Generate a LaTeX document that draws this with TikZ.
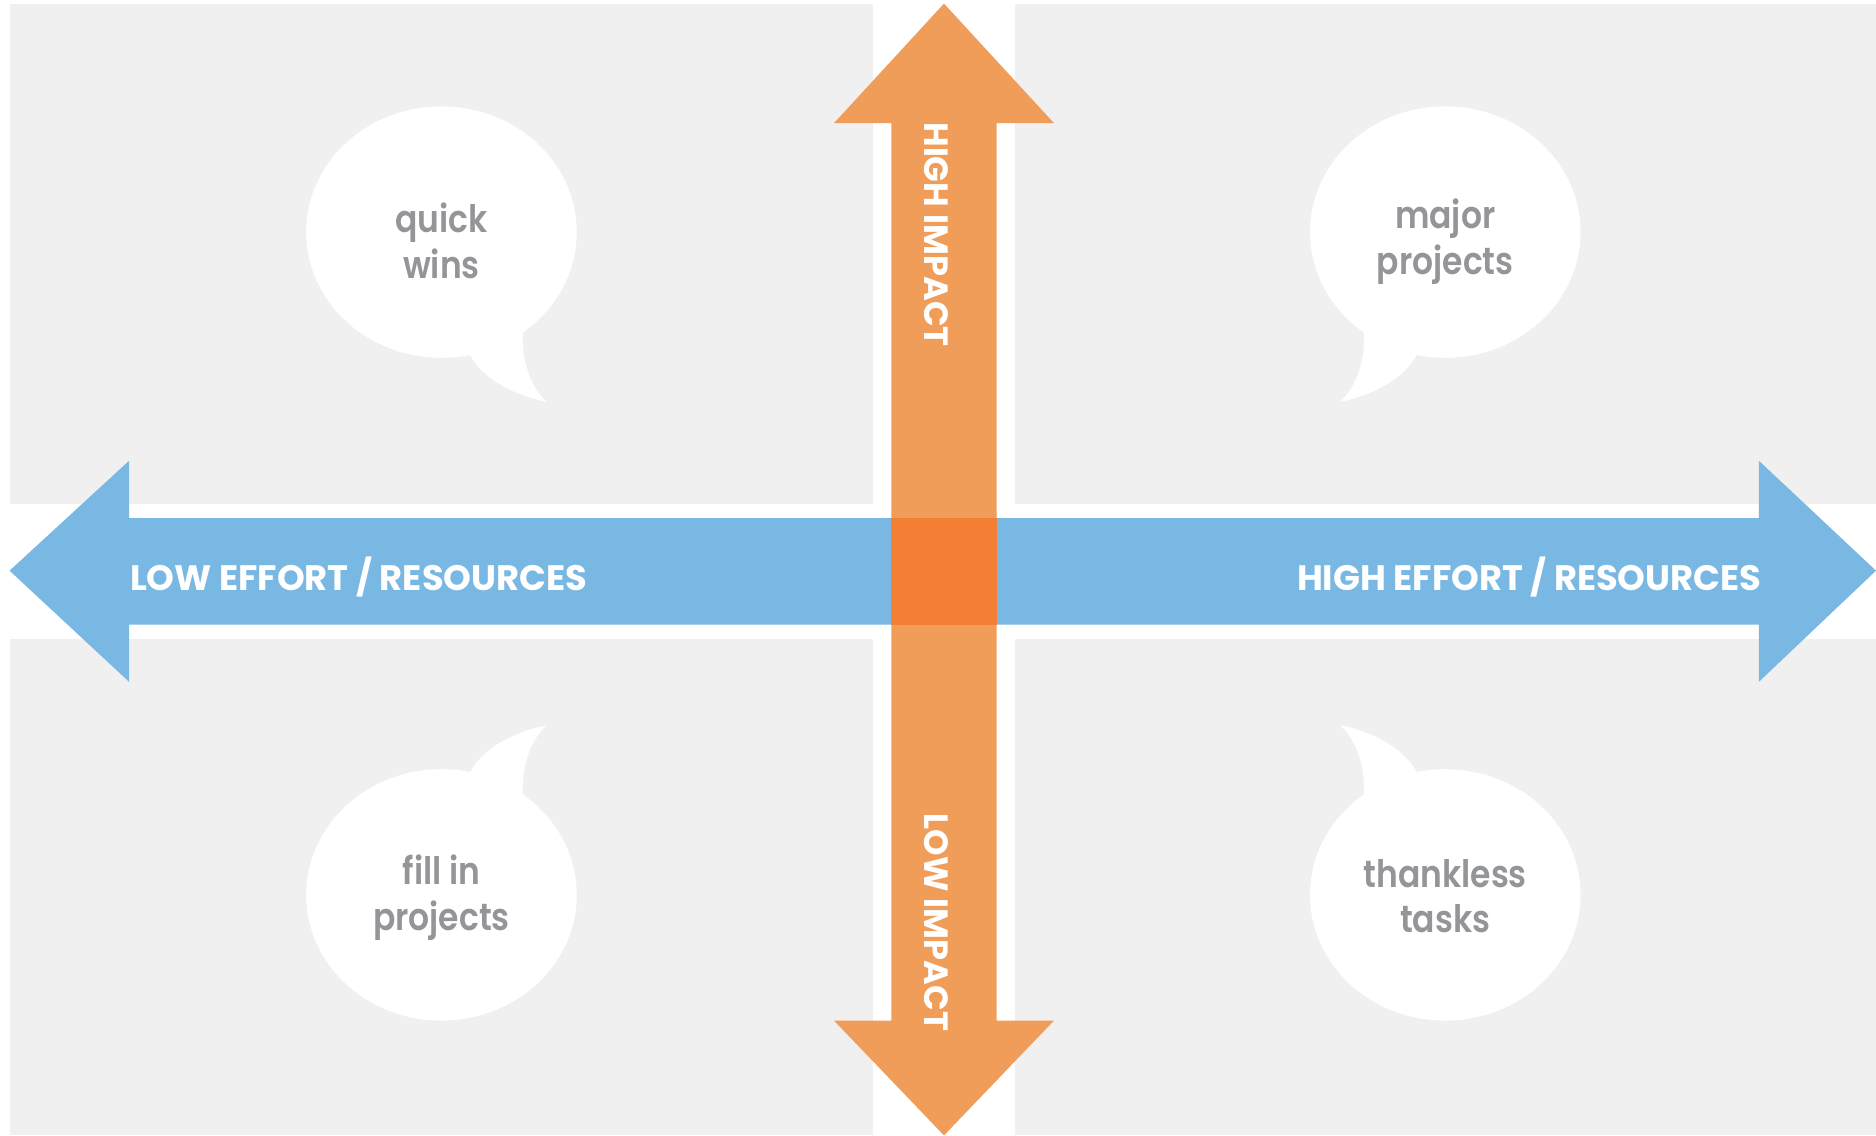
\documentclass[tikz,border=0pt]{standalone}
\usepackage{fontspec}
\setmainfont{Poppins}
\newfontfamily\semibold{Poppins SemiBold}[FakeStretch=0.87]
\definecolor{panelgrey}{HTML}{F0F0F0}
\definecolor{impactorange}{HTML}{F09D5A}
\definecolor{crossorange}{HTML}{F27F33}
\definecolor{effortblue}{HTML}{7AB8E4}
\definecolor{labelgrey}{HTML}{939598}

\begin{document}
\begin{tikzpicture}[x=0.01cm,y=-0.01cm]
\tikzstyle{panel}=[fill=panelgrey]
\tikzstyle{bubble}=[fill=white]
\tikzstyle{quad}=[align=center,text=labelgrey,font=\semibold\fontsize{9}{10.9}\selectfont]
\tikzstyle{axis}=[text=white,inner sep=0pt,font=\bfseries\fontsize{8.4}{10}\selectfont]
\tikzstyle{vaxis}=[axis,rotate=-90,font=\bfseries\fontsize{8}{10}\selectfont]
\useasboundingbox (0,0) rectangle (1568,949);
% quadrants
\path[panel] (8,3) rectangle (730,421);
\path[panel] (848,3) rectangle (1568,421);
\path[panel] (8,534) rectangle (730,949);
\path[panel] (848,534) rectangle (1568,949);

% speech bubbles
\path[bubble] (369,194) ellipse [x radius=1.13cm, y radius=1.05cm];
\path[bubble] (437,270) -- (437,278) .. controls (436,300) and (442,322) .. (457,336) .. controls (430,330) and (405,318) .. (393,297) -- (393,290) -- cycle;
\path[bubble] (1208,194) ellipse [x radius=1.13cm, y radius=1.05cm];
\path[bubble] (1140,270) -- (1140,278) .. controls (1141,300) and (1135,322) .. (1120,336) .. controls (1147,330) and (1172,318) .. (1184,297) -- (1184,290) -- cycle;
\path[bubble] (369,748) ellipse [x radius=1.13cm, y radius=1.05cm];
\path[bubble] (437,672) -- (437,664) .. controls (436,642) and (442,620) .. (457,606) .. controls (430,612) and (405,624) .. (393,645) -- (393,652) -- cycle;
\path[bubble] (1208,748) ellipse [x radius=1.13cm, y radius=1.05cm];
\path[bubble] (1140,672) -- (1140,664) .. controls (1141,642) and (1135,620) .. (1120,606) .. controls (1147,612) and (1172,624) .. (1184,645) -- (1184,652) -- cycle;

\path (369,201) node[quad](quickwins){quick\\wins};
\path (1208,202) node[quad](majorprojects){major\\projects};
\path (369,750) node[quad](fillin){fill in\\projects};
\path (1208,749) node[quad](thankless){thankless\\tasks};

% impact axis
\fill[impactorange] (789,3) -- (881,103) -- (833,103) -- (833,853) -- (881,853) -- (789,949) -- (697,853) -- (745,853) -- (745,103) -- (697,103) -- cycle;
% effort axis
\fill[effortblue] (8,477) -- (108,385) -- (108,433) -- (1470,433) -- (1470,385) -- (1568,477) -- (1470,570) -- (1470,522) -- (108,522) -- (108,570) -- cycle;
\fill[crossorange] (745,433) rectangle (833,522);

\path (108,482) node[axis,anchor=west](loweffort){LOW EFFORT / RESOURCES};
\path (1473,482) node[axis,anchor=east](higheffort){HIGH EFFORT / RESOURCES};
\path (783,196) node[vaxis](highimpact){HIGH IMPACT};
\path (783,771) node[vaxis](lowimpact){LOW IMPACT};
\end{tikzpicture}
\end{document}
